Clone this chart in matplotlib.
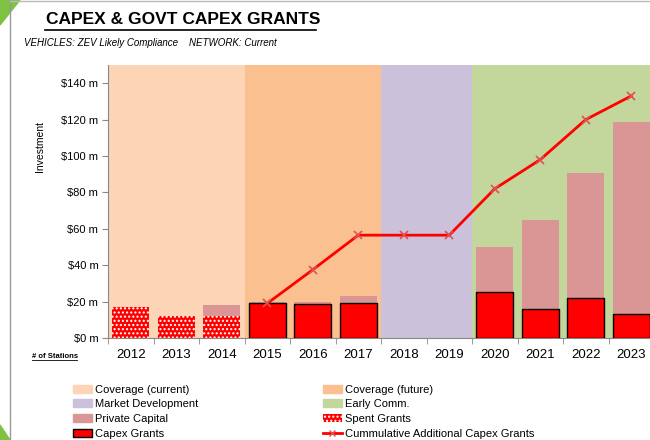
import matplotlib
matplotlib.use("Agg")
import matplotlib.pyplot as plt
import matplotlib.patches as mpatches
from matplotlib.lines import Line2D
import numpy as np

plt.rcParams["font.family"] = ["Liberation Sans", "DejaVu Sans"]

years = ["2012", "2013", "2014", "2015", "2016", "2017", "2018", "2019", "2020", "2021", "2022", "2023"]
spent_grants = [17, 12, 12, 0, 0, 0, 0, 0, 0, 0, 0, 0]
capex_grants = [0, 0, 0, 19, 18.5, 19, 0, 0, 25.5, 16, 22, 13]
private_capital = [0, 0, 6, 1, 1.5, 4, 0, 0, 24.5, 49, 68.5, 105.5]
cumulative = [None, None, None, 19, 37.5, 56.5, 56.5, 56.5, 82, 98, 120, 133]
phases = [("Coverage (current)", 0, 2), ("Coverage (future)", 3, 5),
          ("Market Development", 6, 7), ("Early Comm.", 8, 11)]
phase_colors = ["#FBD5B5", "#FAC090", "#CCC1DA", "#C3D69B"]
yticks = [0, 20, 40, 60, 80, 100, 120, 140]

fig = plt.figure(figsize=(6.5, 4.4), dpi=100)
ax = fig.add_axes([108 / 650, 1 - 338 / 440, 546 / 650, 273 / 440])

x = np.arange(len(years))
for (name, a, b), c in zip(phases, phase_colors):
    ax.axvspan(a - 0.5, b + 0.5, color=c, lw=0, zorder=0)

w = 0.82
base = [s + g for s, g in zip(spent_grants, capex_grants)]
ax.bar(x, private_capital, w, bottom=base, color="#D99694", lw=0, zorder=1)
ax.bar(x, spent_grants, w, color="#FF0000", edgecolor="white", hatch="....", lw=0, zorder=2)
grant_bars = ax.bar(x, capex_grants, w, color="#FF0000", edgecolor="black", lw=1.0, zorder=3)
# hide the outline on empty grant bars
for rect, v in zip(grant_bars, capex_grants):
    if v == 0:
        rect.set_visible(False)

cx = [i for i, v in zip(x, cumulative) if v is not None]
cy = [v for v in cumulative if v is not None]
ax.plot(cx, cy, color="#FF0000", lw=2, marker="x", ms=6, mew=1.2,
        mec="#E05050", zorder=4)

ax.set_xlim(-0.5, 11.5)
ax.set_ylim(0, 150)
ax.set_yticks(yticks)
ax.set_yticklabels([f"${v} m" for v in yticks], fontsize=8)
ax.set_xticks(x)
ax.set_xticklabels(years, fontsize=9.5)
ax.tick_params(axis="x", length=0, pad=8)
ax.set_xticks(np.arange(-0.5, 12, 1), minor=True)
ax.tick_params(axis="x", which="minor", length=4, color="#888888")
ax.tick_params(axis="y", length=4, color="#888888", pad=3)
for s in ["top", "right"]:
    ax.spines[s].set_visible(False)
ax.spines["left"].set_color("#888888")
ax.spines["bottom"].set_color("#888888")
ax.set_ylabel("Investment", fontsize=7.5)
ax.yaxis.set_label_coords(-0.115, 0.7)

fig.text(46 / 650, 1 - 19 / 440, "CAPEX & GOVT CAPEX GRANTS", fontsize=12.5,
         fontweight="bold", va="center", ha="left")
fig.add_artist(Line2D([45 / 650, 316 / 650], [1 - 30 / 440, 1 - 30 / 440], color="black", lw=1.2))
fig.text(24 / 650, 1 - 43 / 440, "VEHICLES: ZEV Likely Compliance    NETWORK: Current",
         fontsize=7, style="italic", va="center", ha="left")
fig.text(32 / 650, 1 - 356 / 440, "# of Stations", fontsize=5.5, fontweight="bold",
         va="center", ha="left")
fig.add_artist(Line2D([32 / 650, 77 / 650], [1 - 360 / 440, 1 - 360 / 440], color="black", lw=0.6))

# slide frame
fig.add_artist(Line2D([10 / 650, 10 / 650], [0, 1], color="#999999", lw=1))
fig.add_artist(Line2D([10 / 650, 1], [1 - 1 / 440, 1 - 1 / 440], color="#BBBBBB", lw=1))
fig.add_artist(mpatches.Polygon([[0, 1], [20 / 650, 1], [0, 1 - 25 / 440]],
                                closed=True, color="#7DC242", transform=fig.transFigure))
fig.add_artist(mpatches.Polygon([[0, 0], [10 / 650, 0], [0, 15 / 440]],
                                closed=True, color="#7DC242", transform=fig.transFigure))

h_cur = mpatches.Patch(color=phase_colors[0], label="Coverage (current)")
h_fut = mpatches.Patch(color=phase_colors[1], label="Coverage (future)")
h_mkt = mpatches.Patch(color=phase_colors[2], label="Market Development")
h_early = mpatches.Patch(color=phase_colors[3], label="Early Comm.")
h_priv = mpatches.Patch(color="#D99694", label="Private Capital")
h_spent = mpatches.Patch(facecolor="#FF0000", edgecolor="white", hatch="....", lw=0, label="Spent Grants")
h_grant = mpatches.Patch(facecolor="#FF0000", edgecolor="black", lw=1, label="Capex Grants")
h_cum = Line2D([], [], color="#FF0000", lw=2, marker="x", ms=5, mec="#E05050",
               label="Cummulative Additional Capex Grants")

leg_kw = dict(loc="upper left", frameon=False, handlelength=1.75,
              handleheight=0.7, handletextpad=0.25, labelspacing=0.42, borderpad=0,
              prop={"size": 8})
fig.legend(handles=[h_cur, h_mkt, h_priv, h_grant], bbox_to_anchor=(67 / 650, 1 - 379 / 440), **leg_kw)
fig.legend(handles=[h_fut, h_early, h_spent, h_cum], bbox_to_anchor=(317 / 650, 1 - 379 / 440), **leg_kw)

fig.savefig("out.png", dpi=100)
